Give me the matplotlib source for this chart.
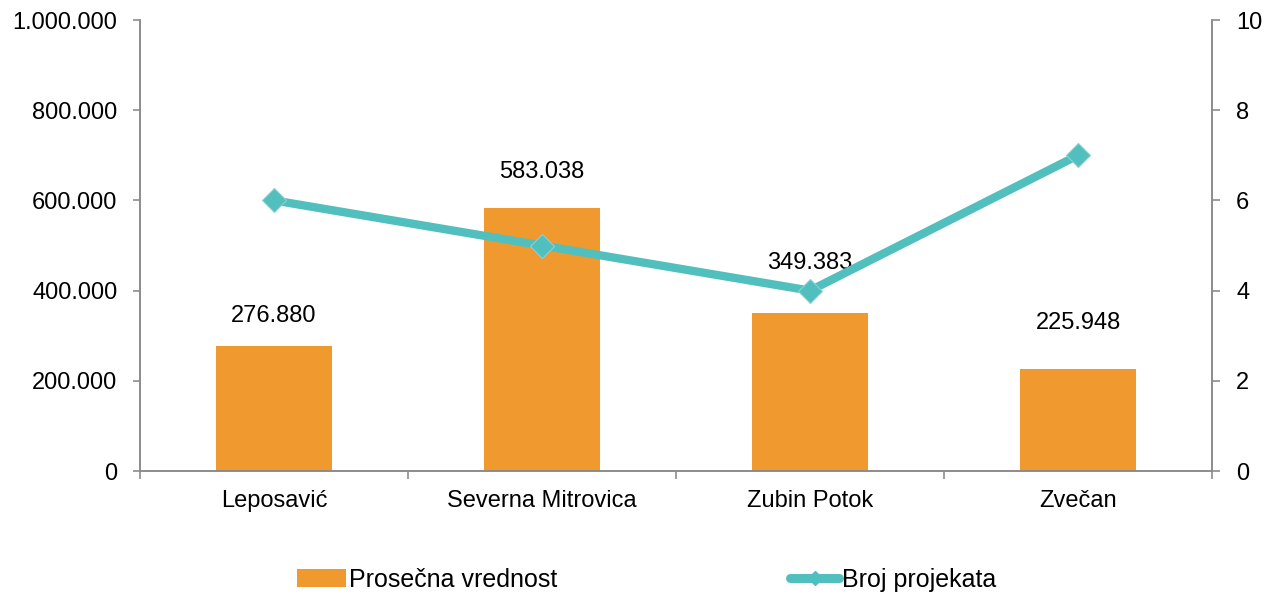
import matplotlib
matplotlib.use("Agg")
import matplotlib.pyplot as plt
from matplotlib.ticker import FuncFormatter, FixedLocator, NullFormatter
from matplotlib.lines import Line2D
from matplotlib.patches import Patch

plt.rcParams["font.family"] = ["Liberation Sans", "DejaVu Sans"]

# ── Données ───────────────────────────────────────────────────────────────
opstine = ["Leposavić", "Severna Mitrovica", "Zubin Potok", "Zvečan"]
prosecna_vrednost = [276880, 583038, 349383, 225948]
broj_projekata = [6, 5, 4, 7]

ORANGE = "#F0992E"
TEAL = "#52BFBF"
GRAY = "#8C8C8C"
FS = 17


def fmt_dots(v, _pos=None):
    return f"{int(round(v)):,}".replace(",", ".")


fig = plt.figure(figsize=(12.71, 5.96), dpi=100)
ax = fig.add_axes([0.1102, 0.2097, 0.8434, 0.7567])
ax2 = ax.twinx()

x = list(range(len(opstine)))
ax.bar(x, prosecna_vrednost, width=0.435, color=ORANGE, zorder=2)
ax.set_xlim(-0.5, len(opstine) - 0.5)
ax.set_ylim(0, 1000000)
ax.set_yticks(range(0, 1000001, 200000))
ax.yaxis.set_major_formatter(FuncFormatter(fmt_dots))

# étiquettes des valeurs (décalage en px au-dessus de la barre)
label_off = [30, 36, 50, 46]
for xi, v, off in zip(x, prosecna_vrednost, label_off):
    ax.annotate(fmt_dots(v), (xi, v), xytext=(0, off * 0.72),
                textcoords="offset points", ha="center", va="center",
                fontsize=FS, color="black", zorder=5)

ax2.plot(x, broj_projekata, color=TEAL, lw=6, marker="D", markersize=12,
         markerfacecolor=TEAL, markeredgecolor="#8fcfcf", markeredgewidth=0.8,
         zorder=4)
ax2.set_ylim(0, 10)
ax2.set_yticks(range(0, 11, 2))

# axes / ticks
ax.set_xticks(x)
ax.set_xticklabels(opstine)
ax.xaxis.set_minor_locator(FixedLocator([i - 0.5 for i in range(len(opstine) + 1)]))
ax.xaxis.set_minor_formatter(NullFormatter())
ax.tick_params(axis="x", which="major", length=0, pad=14, labelsize=FS)
ax.tick_params(axis="x", which="minor", length=5.4, color=GRAY, width=1.2)
ax.tick_params(axis="y", length=5.4, color=GRAY, width=1.2, labelsize=FS, pad=11)
ax2.tick_params(axis="y", length=5.4, color=GRAY, width=1.2, labelsize=FS, pad=12)

for a in (ax, ax2):
    a.spines["top"].set_visible(False)
    for s in ("left", "right", "bottom"):
        a.spines[s].set_color(GRAY)
        a.spines[s].set_linewidth(1.2)

ax.set_zorder(ax2.get_zorder() - 1)
ax2.patch.set_visible(False)

handles = [
    Patch(facecolor=ORANGE, edgecolor="none", label="Prosečna vrednost"),
    Line2D([0], [0], color=TEAL, lw=6.5, marker="D", markersize=7,
           solid_capstyle="round", label="Broj projekata"),
]
fig.legend(handles=handles, loc="center", bbox_to_anchor=(0.509, 0.027),
           ncol=2, frameon=False, fontsize=18, columnspacing=9.3,
           handlelength=1.96, handletextpad=0.12, borderpad=0)

fig.savefig("out.png", dpi=100, facecolor="white")
